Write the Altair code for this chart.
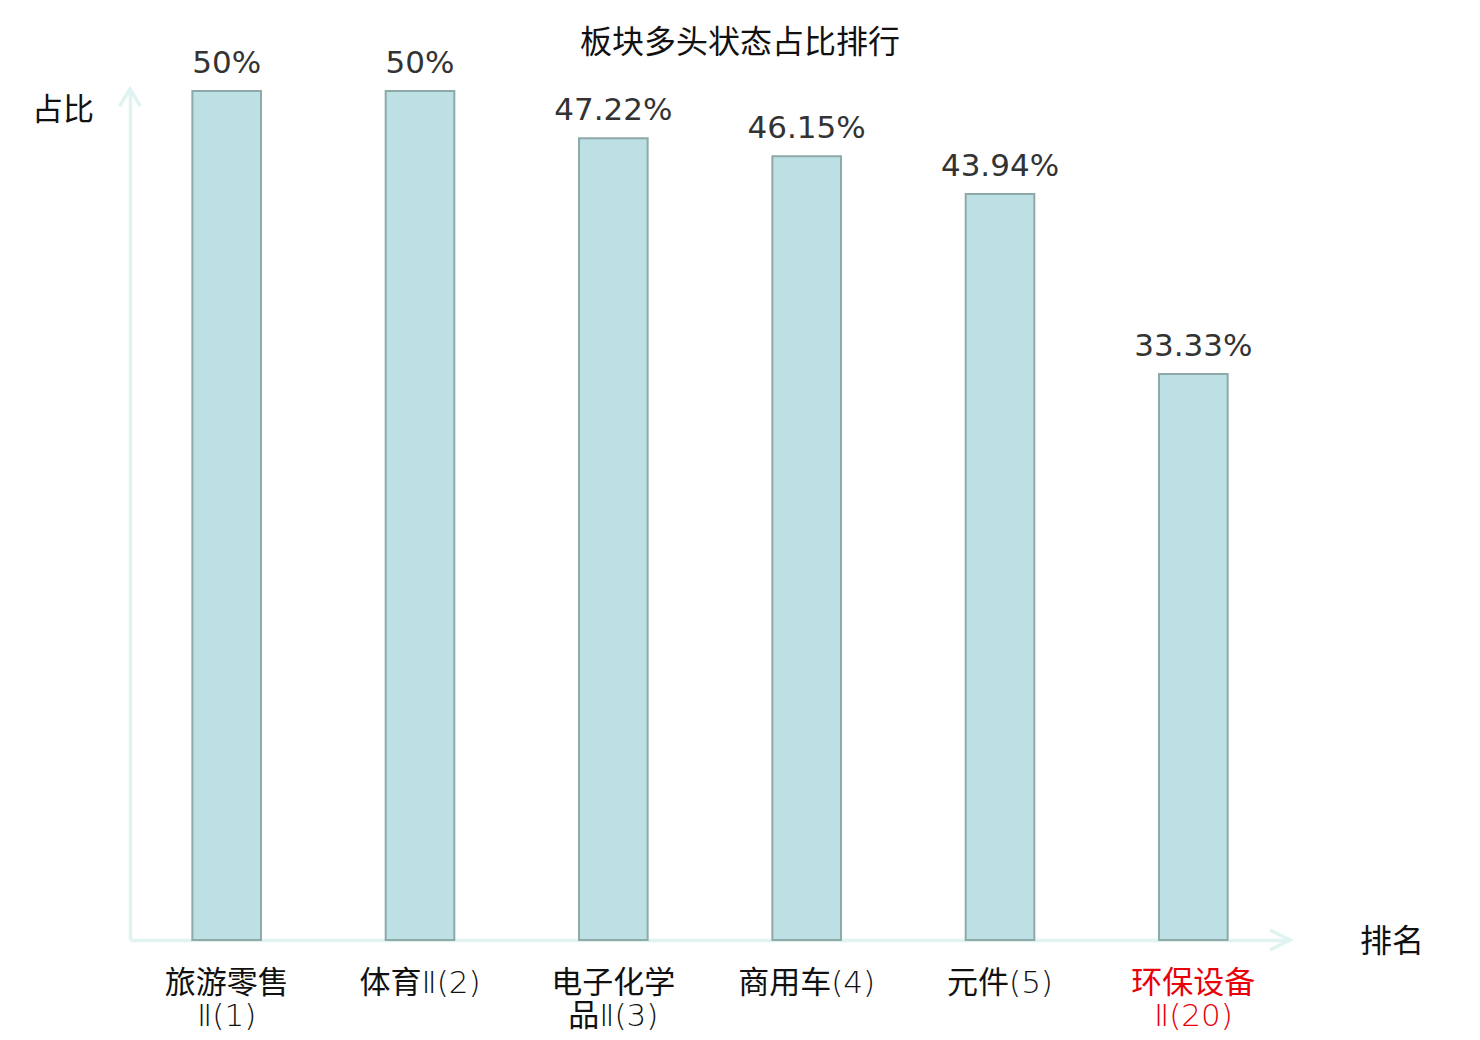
import altair as alt
import pandas as pd

categories = ["旅游零售\nⅡ(1)", "体育Ⅱ(2)", "电子化学\n品Ⅱ(3)", "商用车(4)", "元件(5)", "环保设备\nⅡ(20)"]
values = [50, 50, 47.22, 46.15, 43.94, 33.33]
chart_title = "板块多头状态占比排行"
y_title = "占比"
x_title = "排名"

df = pd.DataFrame({"cat": categories, "v": values})

W, H = 1160, 849
CJK = "Noto Sans CJK SC"
AXIS_COLOR = "#dff3f0"

base = alt.Chart(df)

x_enc = alt.X(
    "cat:N",
    sort=categories,
    scale=alt.Scale(paddingInner=0.645, paddingOuter=0.3225),
    axis=alt.Axis(
        title=None,
        ticks=False,
        domainColor=AXIS_COLOR,
        domainWidth=3.5,
        labelAngle=0,
        labelFont="'DejaVu Sans Light', 'Noto Sans CJK SC'",
        labelFontSize=31,
        labelPadding=28,
        labelBaseline="top",
        labelLineHeight=33,
        labelExpr="split(datum.value, '\\n')",
        labelColor=alt.ExprRef(expr="indexof(datum.value, '环保') >= 0 ? '#e8000b' : '#111111'"),
    ),
)
y_enc = alt.Y(
    "v:Q",
    scale=alt.Scale(domain=[0, 50], nice=False),
    axis=alt.Axis(
        title=None, labels=False, ticks=False, grid=False,
        domainColor=AXIS_COLOR, domainWidth=3.5,
    ),
)

bars = base.mark_bar(fill="#bce0e4", stroke="#8fa9a9", strokeWidth=2).encode(x=x_enc, y=y_enc)

value_text = base.transform_calculate(lbl="datum.v + '%'").mark_text(
    font="DejaVu Sans", fontSize=31, color="#333333", baseline="alphabetic", dy=-18
).encode(x=alt.X("cat:N", sort=categories), y="v:Q", text="lbl:N")

title_mark = alt.Chart(pd.DataFrame({"t": [chart_title]})).mark_text(
    font=CJK, fontSize=32, color="#111111", baseline="middle", align="center"
).encode(x=alt.value(610), y=alt.value(-48), text="t:N")

ylab = alt.Chart(pd.DataFrame({"t": [y_title]})).mark_text(
    font=CJK, fontSize=31, color="#111111", baseline="middle", align="center"
).encode(x=alt.value(-67), y=alt.value(20), text="t:N")

xlab = alt.Chart(pd.DataFrame({"t": [x_title]})).mark_text(
    font=CJK, fontSize=32, color="#111111", baseline="middle", align="center"
).encode(x=alt.value(1262), y=alt.value(851), text="t:N")

arrow_x = alt.Chart(pd.DataFrame({"a": [0]})).mark_point(
    shape="M-1,-0.5L0,0L-1,0.5", size=1600, filled=False, stroke=AXIS_COLOR, strokeWidth=3.5, opacity=1
).encode(x=alt.value(W), y=alt.value(H))

arrow_y = alt.Chart(pd.DataFrame({"a": [0]})).mark_point(
    shape="M-0.55,0.9L0,0L0.55,0.9", size=1444, filled=False, stroke=AXIS_COLOR, strokeWidth=3.5, opacity=1
).encode(x=alt.value(0), y=alt.value(-2))

chart = alt.layer(bars, value_text, arrow_x, arrow_y, title_mark, ylab, xlab).properties(
    width=W, height=H,
    autosize=alt.AutoSizeParams(type="none"),
    padding={"left": 122, "top": 83, "right": 170, "bottom": 98},
).configure_view(stroke=None)

chart.save("out.html", embed_options={"renderer": "svg", "actions": False})
